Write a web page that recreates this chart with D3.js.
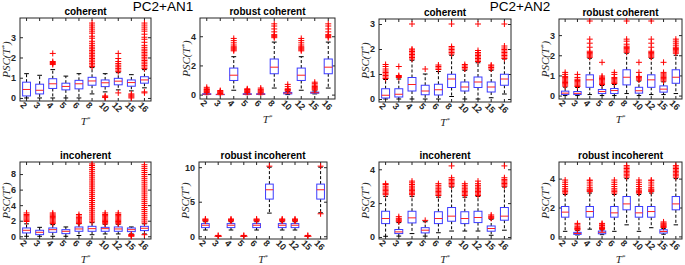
<!DOCTYPE html>
<html>
<head>
<meta charset="utf-8">
<script src="https://cdn.jsdelivr.net/npm/d3@7"></script>
<style>
	body { margin: 0; background: #fff; }
	svg { display: block; }
	.axis text { font-family: "Liberation Sans", Arial, sans-serif; font-size: 9px; fill: #262626; font-weight: bold; }
	.axis path, .axis line { stroke: #262626; }
	.ptitle { font-family: "Liberation Sans", Arial, sans-serif; font-size: 10px; font-weight: bold; fill: #000; }
	.suptitle { font-family: "Liberation Sans", Arial, sans-serif; font-size: 13.5px; fill: #000; }
	.lab { font-family: "Liberation Serif", "Times New Roman", serif; font-style: italic; font-size: 11px; fill: #262626; }
</style>
</head>
<body>
<div id="chart"></div>
<script>
// categories on x (T*)
const categories = ["2", "3", "4", "5", "6", "8", "10", "12", "15", "16"];

// box stats per category: [lower whisker, q1, median, q3, upper whisker]
// PC2+AN1
const an1Coherent = [[0,0.1,0.42,0.78,1.2],[0,0.2,0.38,0.68,1.12],[0,0.47,0.7,0.95,1.4],[0,0.4,0.57,0.73,1.08],[0,0.45,0.7,0.87,1.2],
	[0.2,0.63,0.84,1.02,1.5],[0.3,0.56,0.75,0.89,1.2],[0.4,0.65,0.83,0.97,1.25],[0.35,0.58,0.76,0.89,1.15],[0.5,0.73,0.89,1.05,1.4]];
const an1CoherentOut = [[],[],[1.65,1.7,1.75,1.8,2.2],[],[],
	[1.55,1.63,1.71,1.79,1.87,1.95,2.03,2.11,2.19,2.27,2.35,2.43,2.51,2.6,2.7,2.8,2.95,3.05,3.2,3.3,3.4,3.5,3.6,3.7],
	[0.02,0.06,0.1],[0.25,1.3,1.38,1.46,1.54,1.62,1.7,1.8,1.95,2.2],[0,0.05,0.1,0.15,0.2],
	[0.25,0.3,1.45,1.53,1.61,1.69,1.77,1.85,1.93,2.01,2.09,2.17,2.25,2.33,2.41,2.5,2.6,2.75,2.9,3.0,3.15,3.3,3.4,3.5,3.6,3.7]];

const an1Robust = [[0,0.01,0.03,0.06,0.1],[0,0,0.01,0.02,0.04],[0.3,0.97,1.33,1.82,2.6],[0,0.01,0.03,0.06,0.1],[0,0.01,0.03,0.06,0.1],
	[0.45,1.43,1.88,2.44,3.6],[0,0.05,0.1,0.15,0.2],[0.3,0.97,1.33,1.82,2.6],[0.05,0.1,0.13,0.17,0.25],[0.45,1.43,1.88,2.44,3.6]];
const an1RobustOut = [[0.15,0.2,0.25,0.3,0.35,0.4,0.5],[0.08,0.13,0.18,0.23,0.28],[3.0,3.07,3.14,3.21,3.28,3.4,3.55,3.7,3.85],
	[0.15,0.2,0.25,0.3,0.35,0.4],[0.12,0.18,0.24,0.3,0.36,0.45],[3.9,3.97,4.04,4.11,4.3,4.5,4.7,4.85],
	[0.25,0.3,0.35,0.4,0.55,0.7],[3.0,3.07,3.14,3.21,3.28,3.4,3.55,3.7,3.85],[0.32,0.38,0.44,0.5,0.56,0.65,0.75,0.85],
	[3.9,3.97,4.04,4.11,4.3,4.5,4.7,4.85]];

const an1Incoherent = [[0,0.43,0.77,1.07,1.6],[0,0.21,0.51,0.77,1.15],[0,0.51,0.85,1.07,1.5],[0,0.34,0.64,0.85,1.2],[0.1,0.64,0.94,1.2,1.6],
	[0.2,0.64,0.98,1.28,1.75],[0.3,0.64,0.98,1.15,1.55],[0.3,0.64,0.94,1.2,1.55],[0.3,0.6,0.85,1.07,1.2],[0.3,0.73,1.03,1.28,1.6]];
const an1IncoherentOut = [[1.9,2.05,2.2,2.35,2.5,2.65,2.8,3.0],[],[1.65,1.8,1.95,2.1,2.25,2.4,2.55,2.7,2.85,3.0],[],
	[1.65,1.8,1.95,2.1,2.25,2.4,2.6,2.8],
	[1.85,2.1,2.35,2.6,2.85,3.1,3.35,3.6,3.85,4.1,4.35,4.6,4.85,5.1,5.35,5.6,5.85,6.1,6.35,6.6,6.85,7.1,7.35,7.6,7.85,8.1,8.35,8.6,8.85,9.1,9.3],
	[1.6,1.75,1.9,2.05,2.2,2.35,2.5,2.65,2.8,3.0],[1.6,1.75,1.9,2.05,2.2,2.35,2.5,2.65,2.8,3.0],[0,0.08,0.16,0.24],
	[0.2,1.7,1.95,2.2,2.45,2.7,2.95,3.2,3.45,3.7,3.95,4.2,4.45,4.7,4.95,5.2,5.45,5.7,5.95,6.2,6.45,6.7,6.95,7.2,7.45,7.7,7.95,8.2,8.45,8.7,8.95,9.2]];

const an1RobustInc = [[0.9,1.25,1.59,1.83,2.1],[0,0,0,0,0],[0.9,1.25,1.59,1.83,2.1],[0,0,0,0,0],[0.9,1.25,1.59,1.83,2.1],
	[3.35,5.38,6.73,7.55,10.0],[0.9,1.25,1.59,1.83,2.1],[0.9,1.25,1.59,1.83,2.1],[0,0,0,0,0],[3.4,5.38,6.73,7.55,10.0]];
const an1RobustIncOut = [[2.2,2.3,2.4,2.5],[0.05,0.12],[2.2,2.3,2.4,2.5],[0.05,0.12],[2.2,2.3,2.4,2.5],[10.15],
	[2.2,2.3,2.4,2.5],[2.2,2.3,2.4,2.5],[0.05,0.12],[3.25,10.15]];

// PC2+AN2
const an2Coherent = [[0,0.04,0.15,0.41,0.78],[0,0.08,0.19,0.41,0.8],[0,0.32,0.58,0.86,1.55],[0,0.17,0.32,0.55,1.0],[0,0.16,0.37,0.59,1.1],
	[0.1,0.46,0.8,0.99,1.75],[0,0.32,0.48,0.68,1.15],[0,0.46,0.68,0.88,1.45],[0.05,0.28,0.48,0.68,1.15],[0.2,0.55,0.8,0.99,1.6]];
const an2CoherentOut = [[0.82,0.88,0.94,1.0,1.06,1.12,1.2,1.3,1.38],[0.86,0.9,0.94,1.3],[1.6,1.66,1.72,1.78,1.84,1.9,1.96,2.0,3.0],[1.2],
	[1.18,1.24,1.3,1.36],[1.8,1.86,1.92,1.98,2.04,2.1,3.0],[1.2,1.26,1.32,1.38],[1.5,1.56,1.62,1.68,1.74,1.8,1.86,1.94,3.0],
	[1.2,1.26,1.32,1.36],[1.62,1.68,1.74,1.8,1.86,1.92,1.98,2.04,2.12,3.0]];

const an2Robust = [[0,0.05,0.12,0.22,0.42],[0,0.05,0.11,0.2,0.4],[0.05,0.41,0.78,1.03,1.85],[0,0.1,0.2,0.3,0.5],[0,0.1,0.25,0.35,0.55],
	[0.1,0.53,0.91,1.28,2.1],[0,0.12,0.24,0.41,0.72],[0.05,0.41,0.78,1.03,1.85],[0.05,0.17,0.32,0.48,0.68],[0.1,0.61,0.91,1.28,2.0]];
const an2RobustOut = [[0.47,0.53,0.59,0.65,0.71,0.77,0.83,0.89,0.95,1.05,1.15],[0.45,0.51,0.57,0.63,0.69,0.75,0.81,0.9,1.05],
	[1.9,1.96,2.02,2.08,2.14,2.2,2.4,2.6,2.8,3.7],[0.55,0.61,0.67,0.73,0.79,0.85,0.91,0.97,1.65],[0.6,0.66,0.72,0.78,0.84,0.9,1.05,1.15],
	[2.15,2.21,2.27,2.33,2.39,2.45,2.55,2.7,2.8,3.7],[0.77,0.83,0.89,0.95,1.15,1.65],[1.9,1.96,2.02,2.08,2.14,2.2,2.4,2.6,2.8,3.7],
	[0.72,0.78,0.84,0.9,0.96,1.02,1.08,1.15,1.65],[2.1,2.16,2.22,2.28,2.34,2.4,2.5,2.6,2.7,2.8]];

const an2Incoherent = [[0.04,0.79,1.09,1.52,2.4],[0.05,0.2,0.3,0.44,0.85],[0.2,0.83,1.13,1.52,2.4],[0.05,0.24,0.4,0.55,0.9],[0.25,0.79,1.09,1.49,2.35],
	[0.35,0.93,1.23,1.74,2.95],[0.35,0.79,1.09,1.49,2.35],[0.35,0.85,1.15,1.52,2.4],[0.1,0.34,0.5,0.65,1.05],[0.4,0.99,1.23,1.74,2.95]];
const an2IncoherentOut = [[2.5,2.58,2.66,2.74,2.82,2.9,3.0,3.1,3.15],[0.9,0.96,1.02,1.1,1.2],[2.5,2.58,2.66,2.74,2.82,2.9,3.0,3.1,3.2,3.3],[0.98],
	[2.45,2.53,2.61,2.69,2.77,2.85,2.95,3.05,3.15],[3.0,3.08,3.16,3.24,3.32,3.4,3.5,4.2],[2.45,2.53,2.61,2.69,2.77,2.85,2.95,3.05,3.15],
	[2.45,2.53,2.61,2.69,2.77,2.85,2.95,3.05,3.15,3.3],[1.1,1.16,1.22,1.3],[3.0,3.08,3.16,3.24,3.32,3.4,3.5,4.2]];

const an2RobustInc = [[0.35,1.33,1.68,2.07,2.9],[0.1,0.14,0.2,0.28,0.4],[0.5,1.33,1.72,2.07,3.0],[0.12,0.18,0.28,0.37,0.45],[0.35,1.33,1.63,2.07,2.9],
	[0.8,1.84,2.25,2.76,4.0],[0.35,1.33,1.63,2.07,2.9],[0.6,1.33,1.72,2.07,3.0],[0.15,0.23,0.34,0.46,0.55],[0.8,1.84,2.25,2.76,4.0]];
const an2RobustIncOut = [[3.0,3.1,3.2,3.3,3.45,3.6,3.75,3.9],[0.45,0.5,0.55,0.6,0.7,0.8,0.9],[3.1,3.16,3.22,3.28,3.4,3.55,3.7,3.85,3.9],
	[0.5,0.55,0.6,0.65,0.75,0.85,0.9],[3.0,3.1,3.2,3.3,3.45,3.6,3.75,3.9],[4.1,4.2,4.3,4.4,4.5,4.6,4.7,4.8,4.9],
	[3.0,3.06,3.12,3.2,3.3,3.45,3.6,3.75,3.9],[3.1,3.16,3.22,3.28,3.4,3.55,3.7,3.85,3.9],[0.62,0.68,0.74,0.8,0.86,0.92,1.0],
	[4.1,4.2,4.3,4.4,4.5,4.6,4.7,4.8,4.9]];

const titles = ["coherent", "robust coherent", "incoherent", "robust incoherent"];
const groupTitles = ["PC2+AN1", "PC2+AN2"];

// panel layout: [left, top, right, bottom] in px
const panels = [
	{ title: titles[0], rect: [20, 18, 151, 101], domain: [-0.15, 3.95], ticks: [0, 1, 2, 3], stats: an1Coherent, out: an1CoherentOut },
	{ title: titles[1], rect: [200, 18, 335, 99], domain: [-0.3, 5.25], ticks: [0, 2, 4], stats: an1Robust, out: an1RobustOut },
	{ title: titles[0], rect: [379, 19, 511, 102], domain: [-0.12, 3.2], ticks: [0, 1, 2, 3], stats: an2Coherent, out: an2CoherentOut },
	{ title: titles[1], rect: [559, 19, 682, 99], domain: [-0.17, 3.8], ticks: [0, 1, 2, 3], stats: an2Robust, out: an2RobustOut },
	{ title: titles[2], rect: [20, 162, 151, 239], domain: [-0.35, 9.55], ticks: [0, 2, 4, 6, 8], stats: an1Incoherent, out: an1IncoherentOut },
	{ title: titles[3], rect: [199, 162, 327, 239], domain: [-0.4, 10.75], ticks: [0, 5, 10], stats: an1RobustInc, out: an1RobustIncOut },
	{ title: titles[2], rect: [379, 162, 511, 239], domain: [-0.12, 4.43], ticks: [0, 2, 4], stats: an2Incoherent, out: an2IncoherentOut },
	{ title: titles[3], rect: [559, 162, 682, 239], domain: [-0.18, 5.15], ticks: [0, 2, 4], stats: an2RobustInc, out: an2RobustIncOut }
];

const W = 685, H = 265;
const svg = d3.select("#chart").append("svg").attr("width", W).attr("height", H);

svg.selectAll(".suptitle")
	.data(groupTitles)
	.enter().append("text")
	.attr("class", "suptitle")
	.attr("x", (d, i) => i === 0 ? 163 : 520)
	.attr("y", 11)
	.attr("text-anchor", "middle")
	.text(d => d);

function draw_panel(p) {
	const [x0, y0, x1, y1] = p.rect;
	const x = d3.scaleBand().domain(categories).range([x0, x1]).padding(0);
	const y = d3.scaleLinear().domain(p.domain).range([y1, y0]);
	const bw = x.bandwidth() * 0.6;
	const cx = d => x(d) + x.bandwidth() / 2;

	const g = svg.append("g");

	// frame
	g.append("rect")
		.attr("x", x0).attr("y", y0)
		.attr("width", x1 - x0).attr("height", y1 - y0)
		.attr("fill", "none").attr("stroke", "#262626").attr("stroke-width", 1);

	// axes, ticks pointing inward like matlab
	const xb = g.append("g").attr("class", "axis")
		.attr("transform", `translate(0,${y1})`)
		.call(d3.axisBottom(x).tickSize(-3).tickPadding(4));
	xb.select(".domain").remove();
	xb.selectAll("text")
		.attr("text-anchor", "start")
		.attr("transform", "translate(-2,0) rotate(45)")
		.attr("dy", "0.3em");

	g.append("g").attr("class", "axis")
		.attr("transform", `translate(0,${y0})`)
		.call(d3.axisTop(x).tickSize(-3).tickFormat(""))
		.select(".domain").remove();

	g.append("g").attr("class", "axis")
		.attr("transform", `translate(${x0},0)`)
		.call(d3.axisLeft(y).tickValues(p.ticks).tickFormat(d3.format("d")).tickSize(-3).tickPadding(4))
		.select(".domain").remove();

	g.append("g").attr("class", "axis")
		.attr("transform", `translate(${x1},0)`)
		.call(d3.axisRight(y).tickValues(p.ticks).tickSize(-3).tickFormat(""))
		.select(".domain").remove();

	const groups = g.selectAll(".bx")
		.data(p.stats.map((s, i) => ({ cat: categories[i], s: s, out: p.out[i] })))
		.enter().append("g").attr("class", "bx");

	// whiskers
	groups.append("line")
		.attr("x1", d => cx(d.cat)).attr("x2", d => cx(d.cat))
		.attr("y1", d => y(d.s[3])).attr("y2", d => y(d.s[4]))
		.attr("stroke", "#000").attr("stroke-dasharray", "3,2");
	groups.append("line")
		.attr("x1", d => cx(d.cat)).attr("x2", d => cx(d.cat))
		.attr("y1", d => y(d.s[1])).attr("y2", d => y(d.s[0]))
		.attr("stroke", "#000").attr("stroke-dasharray", "3,2");
	[0, 4].forEach(k => {
		groups.append("line")
			.attr("x1", d => cx(d.cat) - bw * 0.3).attr("x2", d => cx(d.cat) + bw * 0.3)
			.attr("y1", d => y(d.s[k])).attr("y2", d => y(d.s[k]))
			.attr("stroke", "#000");
	});

	// box + median
	groups.append("rect")
		.attr("x", d => cx(d.cat) - bw / 2)
		.attr("y", d => y(d.s[3]))
		.attr("width", bw)
		.attr("height", d => Math.max(0, y(d.s[1]) - y(d.s[3])))
		.attr("fill", "#fff")
		.attr("stroke", "#3b3bff").attr("stroke-width", 1);
	groups.append("line")
		.attr("x1", d => cx(d.cat) - bw / 2).attr("x2", d => cx(d.cat) + bw / 2)
		.attr("y1", d => y(d.s[2])).attr("y2", d => y(d.s[2]))
		.attr("stroke", "#ff2020");

	// outliers
	groups.selectAll(".out")
		.data(d => d.out.map(v => ({ cat: d.cat, v: v })))
		.enter().append("path")
		.attr("class", "out")
		.attr("d", "M-3,0h6M0,-3v6")
		.attr("transform", d => `translate(${cx(d.cat)},${y(d.v)})`)
		.attr("stroke", "#ff0000").attr("stroke-width", 1).attr("fill", "none");

	// titles and labels
	g.append("text").attr("class", "ptitle")
		.attr("x", (x0 + x1) / 2).attr("y", y0 - 3)
		.attr("text-anchor", "middle").text(p.title);

	const xl = g.append("text").attr("class", "lab")
		.attr("x", (x0 + x1) / 2).attr("y", y1 + 24)
		.attr("text-anchor", "middle");
	xl.append("tspan").text("T");
	xl.append("tspan").attr("font-size", "7px").attr("dy", "-4").text("*");

	const ylab = g.append("text").attr("class", "lab")
		.attr("transform", `translate(${x0 - 10},${(y0 + y1) / 2}) rotate(-90)`)
		.attr("text-anchor", "middle");
	ylab.append("tspan").text("PSC(T");
	ylab.append("tspan").attr("font-size", "7px").attr("dy", "-4").text("*");
	ylab.append("tspan").attr("dy", "4").text(")");
}

panels.forEach(draw_panel);
</script>
</body>
</html>
